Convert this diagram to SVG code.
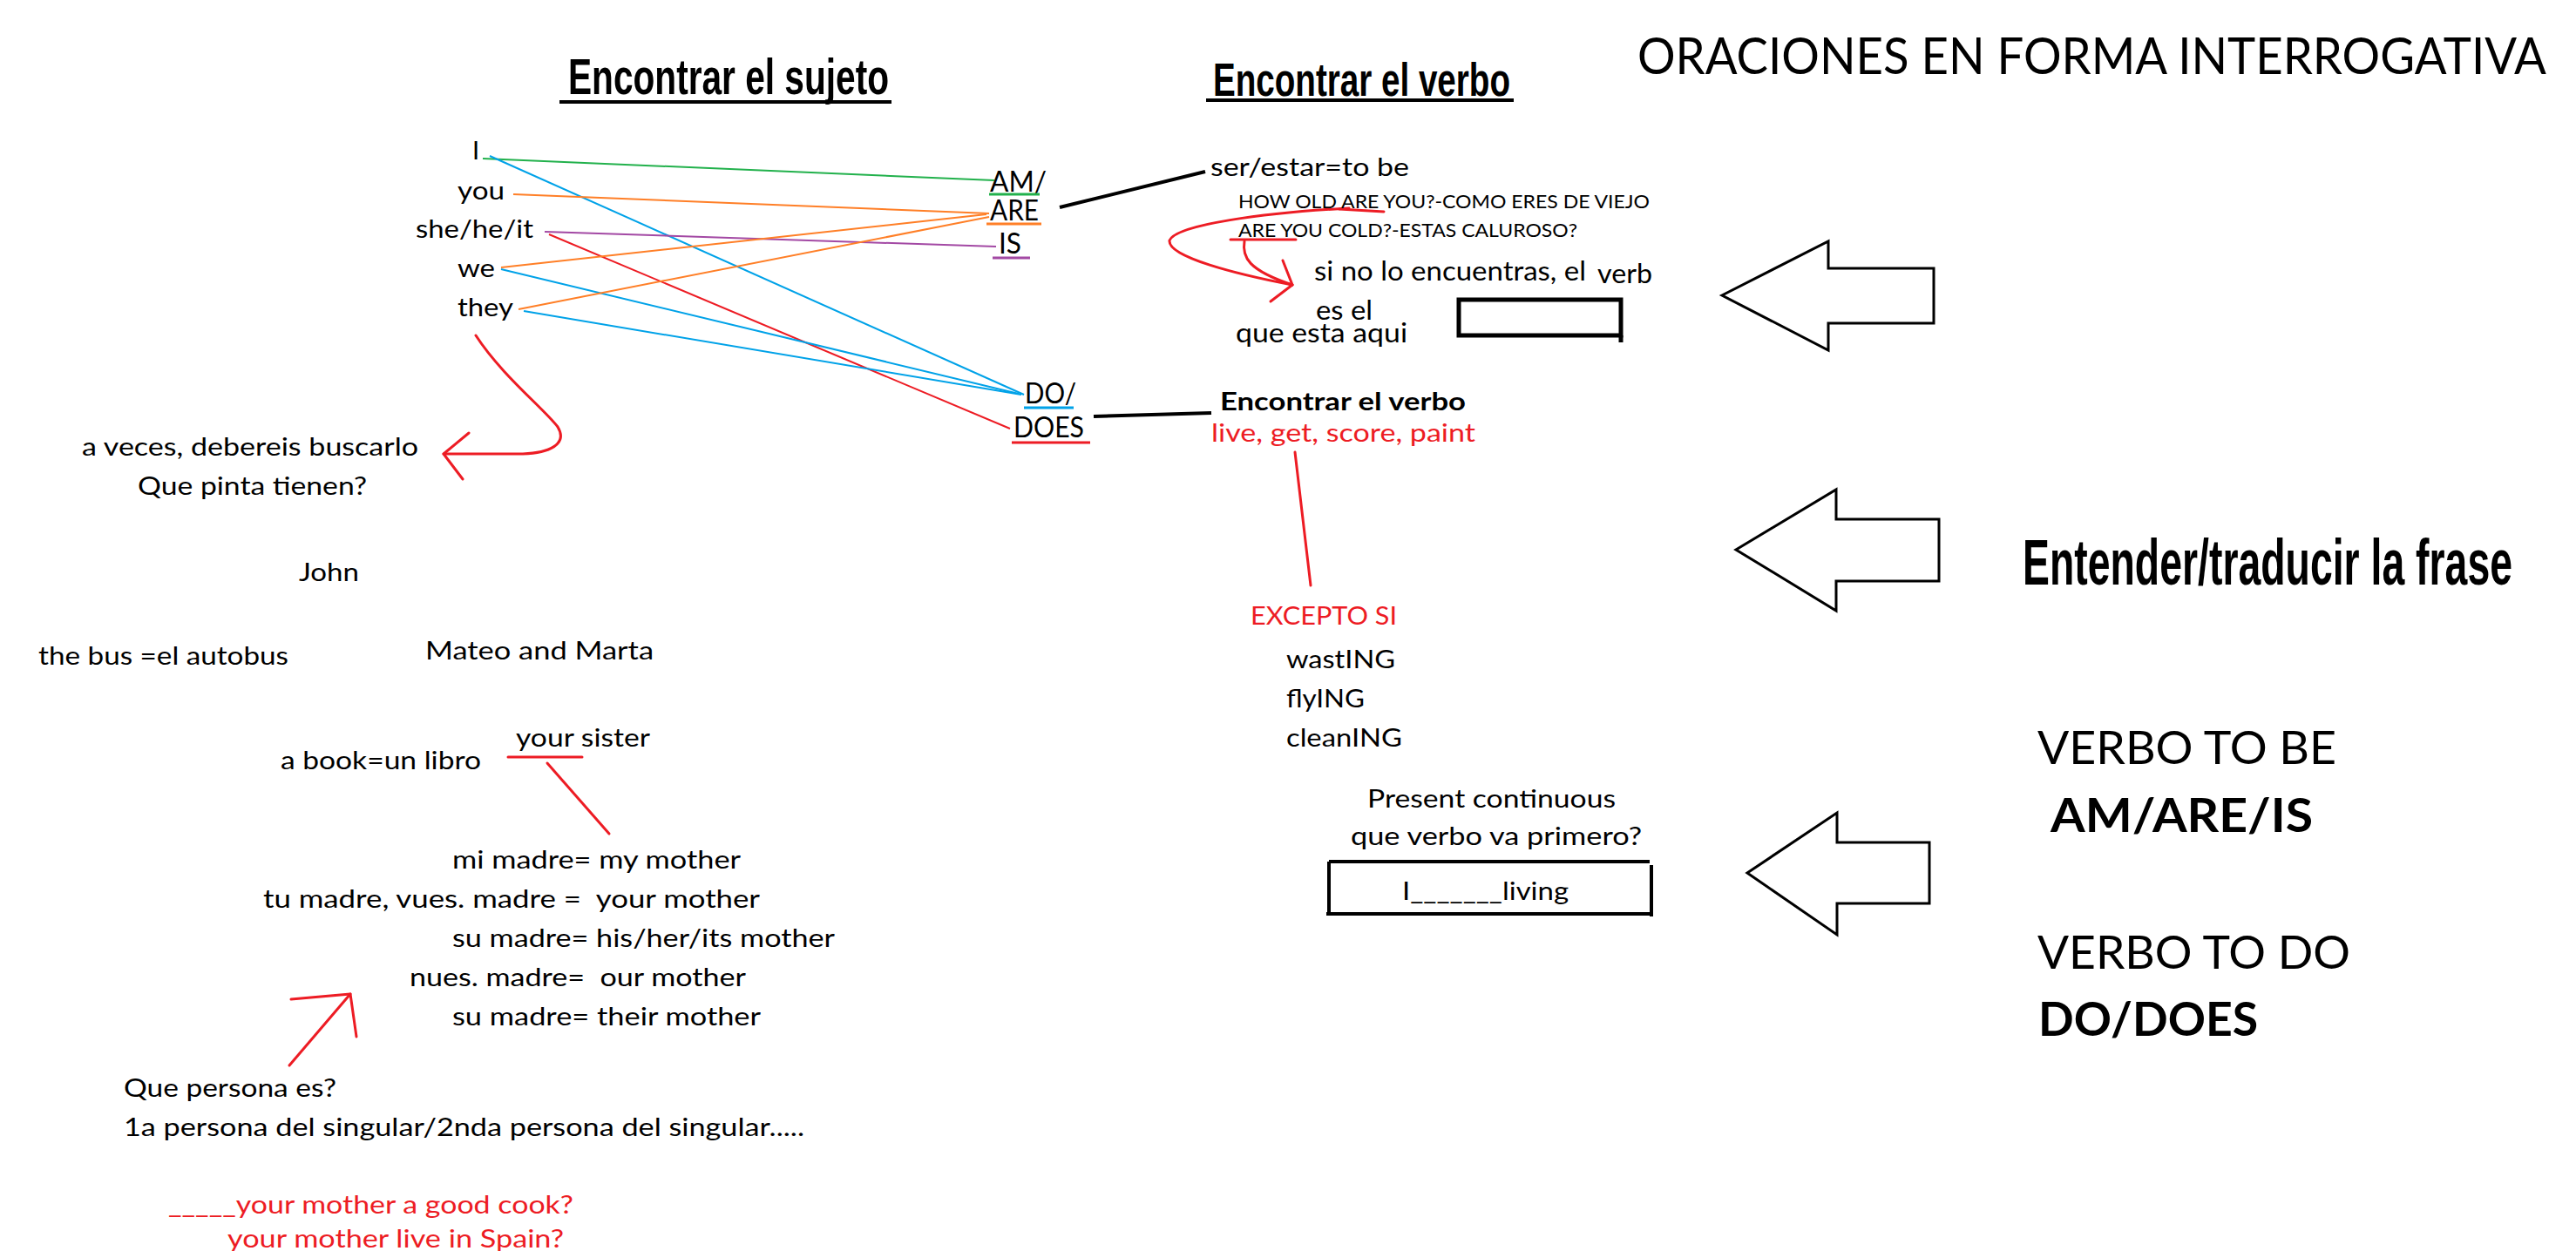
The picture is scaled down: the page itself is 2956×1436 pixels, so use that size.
<svg xmlns="http://www.w3.org/2000/svg" width="2956" height="1436" viewBox="0 0 2956 1436">
<style>
text{font-family:Lato,"Open Sans","Liberation Sans",sans-serif;font-size:29px;fill:#000}
.r{fill:#ed1c24}
.b{font-weight:bold}
.t{font-family:"Liberation Sans Narrow","Liberation Sans",sans-serif;font-weight:bold}
.v{font-size:32px}
.s{font-size:22px}
.m{font-size:30px}
.big{font-size:53px}
.red{stroke:#ed1c24;stroke-width:3;fill:none;stroke-linecap:round;stroke-linejoin:round}
.thin{stroke-width:2;fill:none}
.blk{stroke:#000;fill:none}
.arrow{fill:#fff;stroke:#000;stroke-width:3}
</style>
<rect width="2956" height="1436" fill="#fff"/>

<g id="title-main"><text x="1879" y="85" style="font-size:58px" textLength="1043" lengthAdjust="spacingAndGlyphs">ORACIONES EN FORMA INTERROGATIVA</text></g>

<g id="title-sujeto">
<text class="t" x="652" y="108" style="font-size:57px" textLength="368" lengthAdjust="spacingAndGlyphs">Encontrar el sujeto</text>
<line class="blk" x1="642" y1="117" x2="1023" y2="117" stroke-width="4"/>
</g>
<g id="title-verbo">
<text class="t" x="1392" y="110" style="font-size:53px" textLength="341" lengthAdjust="spacingAndGlyphs">Encontrar el verbo</text>
<line class="blk" x1="1384" y1="115" x2="1737" y2="115" stroke-width="4"/>
</g>

<g id="subjects">
<text x="542" y="183">I</text>
<text x="525" y="229" textLength="54" lengthAdjust="spacingAndGlyphs">you</text>
<text x="477" y="273" textLength="135" lengthAdjust="spacingAndGlyphs">she/he/it</text>
<text x="525" y="318" textLength="43" lengthAdjust="spacingAndGlyphs">we</text>
<text x="525" y="363" textLength="64" lengthAdjust="spacingAndGlyphs">they</text>
</g>

<g id="verbs-be">
<text class="v" x="1136" y="220" textLength="65" lengthAdjust="spacingAndGlyphs">AM/</text>
<text class="v" x="1136" y="253" textLength="56" lengthAdjust="spacingAndGlyphs">ARE</text>
<text class="v" x="1146" y="291" textLength="26" lengthAdjust="spacingAndGlyphs">IS</text>
<line x1="1135" y1="223" x2="1193" y2="223" stroke="#22b14c" stroke-width="3"/>
<line x1="1132" y1="257" x2="1195" y2="257" stroke="#ff7f27" stroke-width="3"/>
<line x1="1139" y1="296" x2="1182" y2="296" stroke="#a349a4" stroke-width="3"/>
</g>
<g id="verbs-do">
<text class="v" x="1176" y="463" textLength="59" lengthAdjust="spacingAndGlyphs">DO/</text>
<text class="v" x="1163" y="502" textLength="81" lengthAdjust="spacingAndGlyphs">DOES</text>
<line x1="1175" y1="468" x2="1232" y2="468" stroke="#00a2e8" stroke-width="3"/>
<line x1="1161" y1="508" x2="1251" y2="508" stroke="#ed1c24" stroke-width="3"/>
</g>

<g id="connectors">
<line class="thin" x1="554" y1="182" x2="1141" y2="207" stroke="#22b14c"/>
<line class="thin" x1="562" y1="179" x2="1175" y2="453" stroke="#00a2e8"/>
<line class="thin" x1="589" y1="223" x2="1135" y2="245" stroke="#ff7f27"/>
<line class="thin" x1="625" y1="266" x2="1143" y2="283" stroke="#a349a4"/>
<line class="thin" x1="630" y1="269" x2="1159" y2="492" stroke="#ed1c24"/>
<line class="thin" x1="575" y1="307" x2="1132" y2="246" stroke="#ff7f27"/>
<line class="thin" x1="575" y1="309" x2="1169" y2="452" stroke="#00a2e8"/>
<line class="thin" x1="595" y1="355" x2="1135" y2="249" stroke="#ff7f27"/>
<line class="thin" x1="601" y1="357" x2="1172" y2="453" stroke="#00a2e8"/>
<line class="blk" x1="1216" y1="238" x2="1383" y2="197" stroke-width="4"/>
<line class="blk" x1="1255" y1="478" x2="1390" y2="474" stroke-width="4"/>
<path class="red" d="M546,385 C575,430 625,470 640,490 C652,510 630,520 600,521 L509,521"/>
<path class="red" d="M538,497 L509,521 L531,550"/>
<path class="red" d="M1537,240 L1588,243"/>
<path class="red" d="M1412,275 L1487,275"/>
<path class="red" d="M1548,239 C1450,244 1350,258 1342,276 C1340,295 1420,315 1483,327"/>
<path class="red" d="M1428,277 C1425,295 1432,310 1483,327"/>
<path class="red" d="M1472,299 L1483,327 L1458,346"/>
<path class="red" d="M1486,519 L1504,672"/>
<path class="red" d="M583,869 L668,869"/>
<path class="red" d="M628,876 L699,957"/>
<path class="red" d="M332,1223 L402,1141"/>
<path class="red" d="M334,1147 L402,1141 L409,1190"/>
</g>

<g id="buscarlo">
<text x="94" y="523" textLength="386" lengthAdjust="spacingAndGlyphs">a veces, debereis buscarlo</text>
<text x="158" y="568" textLength="263" lengthAdjust="spacingAndGlyphs">Que pinta tienen?</text>
</g>
<g id="examples">
<text x="343" y="667" textLength="69" lengthAdjust="spacingAndGlyphs">John</text>
<text x="44" y="763" textLength="287" lengthAdjust="spacingAndGlyphs">the bus =el autobus</text>
<text x="488" y="757" textLength="262" lengthAdjust="spacingAndGlyphs">Mateo and Marta</text>
<text x="322" y="883" textLength="230" lengthAdjust="spacingAndGlyphs">a book=un libro</text>
<text x="592" y="857" textLength="154" lengthAdjust="spacingAndGlyphs">your sister</text>
</g>
<g id="possessives">
<text x="519" y="997" textLength="331" lengthAdjust="spacingAndGlyphs">mi madre= my mother</text>
<text x="302" y="1042" xml:space="preserve" textLength="570" lengthAdjust="spacingAndGlyphs">tu madre, vues. madre =  your mother</text>
<text x="519" y="1087" textLength="439" lengthAdjust="spacingAndGlyphs">su madre= his/her/its mother</text>
<text x="470" y="1132" xml:space="preserve" textLength="386" lengthAdjust="spacingAndGlyphs">nues. madre=  our mother</text>
<text x="519" y="1177" textLength="354" lengthAdjust="spacingAndGlyphs">su madre= their mother</text>
</g>
<g id="persona">
<text x="142" y="1259" textLength="244" lengthAdjust="spacingAndGlyphs">Que persona es?</text>
<text x="142" y="1304" textLength="781" lengthAdjust="spacingAndGlyphs">1a persona del singular/2nda persona del singular.....</text>
</g>
<g id="exercise">
<text class="r" x="193" y="1393" textLength="465" lengthAdjust="spacingAndGlyphs">_____your mother a good cook?</text>
<text class="r" x="261" y="1432" textLength="386" lengthAdjust="spacingAndGlyphs">your mother live in Spain?</text>
</g>

<g id="to-be">
<text x="1389" y="202" textLength="228" lengthAdjust="spacingAndGlyphs">ser/estar=to be</text>
<text class="s" x="1421" y="239" textLength="472" lengthAdjust="spacingAndGlyphs">HOW OLD ARE YOU?-COMO ERES DE VIEJO</text>
<text class="s" x="1421" y="272" textLength="389" lengthAdjust="spacingAndGlyphs">ARE YOU COLD?-ESTAS CALUROSO?</text>
</g>
<g id="si-no">
<text class="m" x="1508" y="322" textLength="312" lengthAdjust="spacingAndGlyphs">si no lo encuentras, el</text>
<text class="m" x="1833" y="325" textLength="63" lengthAdjust="spacingAndGlyphs">verb</text>
<text class="m" x="1510" y="367" textLength="65" lengthAdjust="spacingAndGlyphs">es el</text>
<text class="m" x="1418" y="393" textLength="197" lengthAdjust="spacingAndGlyphs">que esta aqui</text>
<rect x="1674" y="344" width="186" height="41" fill="none" stroke="#000" stroke-width="5"/>
<line class="blk" x1="1860" y1="385" x2="1860" y2="393" stroke-width="5"/>
</g>
<g id="verbo-do">
<text class="b" x="1400" y="471" textLength="282" lengthAdjust="spacingAndGlyphs">Encontrar el verbo</text>
<text class="r" x="1390" y="507" textLength="303" lengthAdjust="spacingAndGlyphs">live, get, score, paint</text>
</g>
<g id="excepto">
<text class="r" x="1435" y="717" textLength="168" lengthAdjust="spacingAndGlyphs">EXCEPTO SI</text>
<text x="1476" y="767" textLength="125" lengthAdjust="spacingAndGlyphs">wastING</text>
<text x="1476" y="812" textLength="90" lengthAdjust="spacingAndGlyphs">flyING</text>
<text x="1476" y="857" textLength="133" lengthAdjust="spacingAndGlyphs">cleanING</text>
</g>
<g id="present-continuous">
<text style="font-size:28px" x="1569" y="927" textLength="285" lengthAdjust="spacingAndGlyphs">Present continuous</text>
<text style="font-size:28px" x="1550" y="970" textLength="334" lengthAdjust="spacingAndGlyphs">que verbo va primero?</text>
<path class="blk" stroke-width="4" d="M1525,989 L1893,989 M1525,989 L1525,1047 M1522,1049 L1893,1049 M1895,993 L1895,1052"/>
<text style="font-size:28px" x="1609" y="1033" textLength="191" lengthAdjust="spacingAndGlyphs">I_______living</text>
</g>

<g id="arrow-1"><polygon class="arrow" points="1976,339 2098,277 2098,308 2219,308 2219,371 2098,371 2098,402"/></g>
<g id="arrow-2"><polygon class="arrow" points="1992,631 2107,562 2107,596 2225,596 2225,667 2107,667 2107,701"/></g>
<g id="arrow-3"><polygon class="arrow" points="2005,1002 2108,933 2108,967 2214,967 2214,1037 2108,1037 2108,1073"/></g>

<g id="entender"><text class="t" x="2321" y="671" style="font-size:75px" textLength="562" lengthAdjust="spacingAndGlyphs">Entender/traducir la frase</text></g>
<g id="verbo-to-be">
<text class="big" x="2338" y="877" textLength="343" lengthAdjust="spacingAndGlyphs">VERBO TO BE</text>
<text class="big b" x="2353" y="955" textLength="301" lengthAdjust="spacingAndGlyphs">AM/ARE/IS</text>
</g>
<g id="verbo-to-do">
<text class="big" x="2338" y="1112" textLength="359" lengthAdjust="spacingAndGlyphs">VERBO TO DO</text>
<text class="big b" x="2339" y="1189" textLength="252" lengthAdjust="spacingAndGlyphs">DO/DOES</text>
</g>
</svg>
